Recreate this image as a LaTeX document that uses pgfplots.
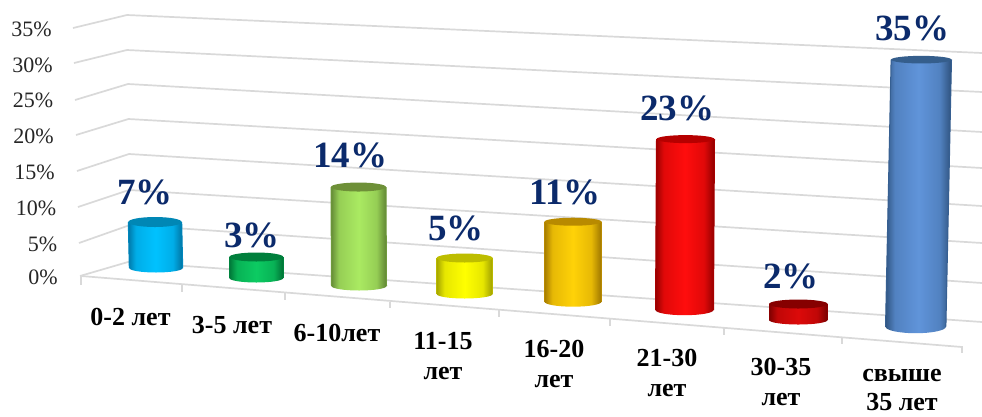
\documentclass[border=0pt]{standalone}
\usepackage{fontspec}
\setmainfont{Liberation Serif}
\usepackage{pgfplots}
\usepackage{pgfplotstable}
\pgfplotsset{compat=1.18}

\definecolor{gridgray}{HTML}{D9D9D9}
\definecolor{labelblue}{HTML}{0B2A6B}

\newcommand\cylcolors[4]{%
  \definecolor{cyl#1l}{HTML}{#2}%
  \definecolor{cyl#1m}{HTML}{#3}%
  \definecolor{cyl#1t}{HTML}{#4}%
  \pgfdeclarehorizontalshading{cyl#1}{100bp}{%
    color(0bp)=(cyl#1l!90!black); color(25bp)=(cyl#1l!90!black);
    color(32bp)=(cyl#1m!65!cyl#1l); color(50bp)=(cyl#1m);
    color(66bp)=(cyl#1m!65!cyl#1l); color(75bp)=(cyl#1l!85!black); color(100bp)=(cyl#1l!85!black)}%
}
\cylcolors{0}{0086BC}{00C2FF}{0087B5}
\cylcolors{1}{00843E}{0CCB62}{007F3C}
\cylcolors{2}{6F9A3C}{AAEA62}{6E9038}
\cylcolors{3}{B9B900}{FFFF00}{BDBD00}
\cylcolors{4}{B98A00}{FFD208}{B88A00}
\cylcolors{5}{A80000}{FF0D0D}{B60000}
\cylcolors{6}{8C0000}{DC0A0A}{860000}
\cylcolors{7}{365F91}{6094DA}{355E8C}

% one cylinder, drawn from its top centre
\pgfdeclareplotmark{cyl}{%
  \pgfmathtruncatemacro\cidi{\cid}%
  \pgfmathsetmacro\hh{\cv*\ck}%
  \pgfmathsetmacro\by{-\hh-\cbb}%
  \pgfmathsetmacro\cy{-\hh-0.5523*\cbb}%
  \pgfmathsetmacro\la{\cl-\chw}%
  \pgfmathsetmacro\lb{\cl-0.5523*\chw}%
  \pgfmathsetmacro\lc{\cl+0.5523*\chw}%
  \pgfmathsetmacro\ld{\cl+\chw}%
  \pgfpathmoveto{\pgfpoint{-\chw pt}{0pt}}%
  \pgfpathlineto{\pgfpoint{\la pt}{-\hh pt}}%
  \pgfpathcurveto{\pgfpoint{\la pt}{\cy pt}}{\pgfpoint{\lb pt}{\by pt}}{\pgfpoint{\cl pt}{\by pt}}%
  \pgfpathcurveto{\pgfpoint{\lc pt}{\by pt}}{\pgfpoint{\ld pt}{\cy pt}}{\pgfpoint{\ld pt}{-\hh pt}}%
  \pgfpathlineto{\pgfpoint{\chw pt}{0pt}}%
  \pgfpathclose
  \pgfshadepath{cyl\cidi}{0}%
  \pgfusepath{discard}%
  % soft side edges
  \pgfsetlinewidth{1pt}%
  \pgfsetstrokecolor{cyl\cidi l}%
  \pgfpathmoveto{\pgfpoint{-\chw pt}{0pt}}%
  \pgfpathlineto{\pgfpoint{\la pt}{-\hh pt}}%
  \pgfpathmoveto{\pgfpoint{\chw pt}{0pt}}%
  \pgfpathlineto{\pgfpoint{\ld pt}{-\hh pt}}%
  \pgfusepath{stroke}%
  \pgfpathellipse{\pgfpointorigin}{\pgfpoint{\chw pt}{0pt}}{\pgfpoint{0pt}{\cbt pt}}%
  \pgfsetfillcolor{cyl\cidi t}%
  \pgfusepath{fill}%
}

% v = value in %, x = top centre, base = foot of the cylinder, k = perspective px per %
\pgfplotstableread{
id cat       v   x     base   k     l     hw    bb  bt   lx    ly
0  0-2       7   155   268    6.57  1.0   26.7  4.5 5.0  145   192
1  3-5       3   256.3 278    7.00  0.0   27.0  4.5 4.5  252   235
2  6-10     14   358.5 286    7.07  0.5   27.5  4.5 4.5  350   155
3  11-15     5   464.7 294    7.20  0.0   28.0  4.5 4.5  456   228
4  16-20    11   573   301.7  7.27  0.0   28.5  5.0 4.0  565   192
5  21-30    23   685.5 310    7.43 -1.0   29.0  5.2 4.0  677   108
6  30-35     2   798.3 320    8.00  0.0   29.3  4.5 4.5  791   276
7  35+      35   921.3 326.7  7.63 -5.6   30.2  6.5 3.8  912   28
}\cyldata

\begin{document}
\begin{tikzpicture}
\path[use as bounding box, fill=white] (0,0) rectangle (982pt,416pt);
\begin{axis}[
  at={(58pt,116pt)}, anchor=south west,
  x=1pt, y=1pt,
  xmin=58, xmax=982, ymin=0, ymax=300,
  y dir=reverse,
  clip=false,
  axis line style={draw=none},
  tick style={draw=none},
  major tick length=0pt,
  ytick={29,65,100.7,136.7,172,208,244,277.7},
  yticklabels={35\%\kern6pt,30\%\kern5pt,25\%\kern4.5pt,20\%\kern4pt,15\%\kern3pt,10\%\kern1.5pt,5\%\kern0.5pt,0\%},
  yticklabel style={font=\fontsize{22}{24}\selectfont, inner sep=0pt, anchor=east, text=black!85},
  xtick={130.5,232,337,443,554,667,781,902},
  xticklabels={
    {\rule{0pt}{25pt}0-2 лет},
    {\rule{0pt}{33pt}3-5 лет},
    {\rule{0pt}{41pt}6-10лет},
    {\rule{0pt}{49pt}11-15\\лет},
    {\rule{0pt}{57pt}16-20\\лет},
    {\rule{0pt}{66pt}21-30\\лет},
    {\rule{0pt}{75pt}30-35\\лет},
    {\rule{0pt}{81pt}свыше\\[-1.5pt]35 лет}},
  xticklabel style={font=\fontsize{26}{30.5}\selectfont\bfseries, inner sep=0pt, anchor=north, align=center},
]
% gridlines on the side and back walls
\addplot[gridgray, line width=1.7pt, line join=round] coordinates {(73,28)(127,15)(982,53)};
\addplot[gridgray, line width=1.7pt, line join=round] coordinates {(74,63)(127,50)(982,92)};
\addplot[gridgray, line width=1.7pt, line join=round] coordinates {(75,100)(128,84)(982,132)};
\addplot[gridgray, line width=1.7pt, line join=round] coordinates {(76,135)(128.5,119)(982,168)};
\addplot[gridgray, line width=1.7pt, line join=round] coordinates {(77,171)(129,154)(982,206)};
\addplot[gridgray, line width=1.7pt, line join=round] coordinates {(78,207)(129,190)(982,243)};
\addplot[gridgray, line width=1.7pt, line join=round] coordinates {(79,243)(130,225)(982,283)};
\addplot[gridgray, line width=1.7pt, line join=round] coordinates {(80,276)(128,262)(982,322)};
% floor edge and its ticks
\addplot[gridgray, line width=1.7pt] coordinates {(81,276)(962,347)};
\addplot[gridgray, line width=1.3pt, unbounded coords=jump] coordinates {
  (81,276)(81,285)(81,nan)
  (182,285)(182,292)(182,nan)
  (285,293)(285,300)(285,nan)
  (390,302)(390,308)(390,nan)
  (499,310)(499,317)(499,nan)
  (610,319)(610,326)(610,nan)
  (724,328)(724,335)(724,nan)
  (842,337)(842,344)(842,nan)
  (962,346)(962,353)};
% cylinders
\addplot[scatter, only marks, mark=cyl,
  visualization depends on={\thisrow{id}\as\cid},
  visualization depends on={\thisrow{v}\as\cv},
  visualization depends on={\thisrow{k}\as\ck},
  visualization depends on={\thisrow{l}\as\cl},
  visualization depends on={\thisrow{hw}\as\chw},
  visualization depends on={\thisrow{bb}\as\cbb},
  visualization depends on={\thisrow{bt}\as\cbt},
] table[x=x, y expr=\thisrow{base}-\thisrow{v}*\thisrow{k}] {\cyldata};
% value labels
\addplot[only marks, mark=none, point meta=explicit,
  nodes near coords={\pgfmathprintnumber[assume math mode=true,precision=0]{\pgfplotspointmeta}\%},
  nodes near coords align=center,
  every node near coord/.append style={anchor=center, inner sep=0pt,
    font=\fontsize{37}{39}\selectfont\bfseries, text=labelblue},
] table[x=lx, y=ly, meta=v] {\cyldata};
\end{axis}
\end{tikzpicture}
\end{document}
